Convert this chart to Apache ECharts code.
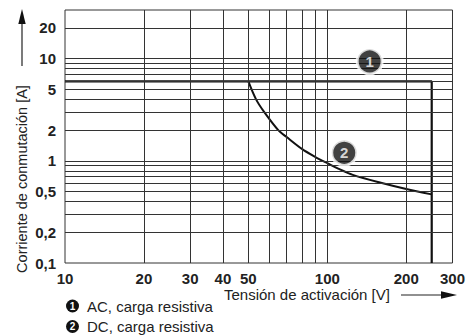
<!DOCTYPE html>
<html><head><meta charset="utf-8">
<script src="https://cdn.jsdelivr.net/npm/echarts@6/dist/echarts.min.js"></script>
<style>html,body{margin:0;padding:0;background:#fff}#c{width:468px;height:336px}</style>
</head><body><div id="c"></div>
<script>
// ---- data ----
const xTickLabels = [10, 20, 30, 40, 50, 100, 200, 300];
const yTickLabels = [0.1, 0.2, 0.5, 1, 2, 5, 10, 20];
const xGridValues = [20, 30, 40, 50, 60, 70, 80, 90, 100, 200];
const yGridValues = [0.2, 0.3, 0.4, 0.5, 0.6, 0.7, 0.8, 0.9, 1, 2, 3, 4, 5, 6, 7, 8, 9, 10, 20];
const acVoltage = [10, 250, 250];
const acCurrent = [6, 6, 0.1];
const dcVoltage = [50, 53.5, 57.5, 65, 70, 80, 90, 96, 100, 110, 125, 160, 200, 250];
const dcCurrent = [6, 4, 3, 2, 1.71, 1.31, 1.09, 1.0, 0.95, 0.84, 0.73, 0.61, 0.53, 0.47];
const seriesNames = ['AC, carga resistiva', 'DC, carga resistiva'];
const markerVoltage = [145, 116];
const markerCurrent = [9.4, 1.2];
const markerLabels = ['1', '2'];
const xAxisTitle = 'Tensión de activación [V]';
const yAxisTitle = 'Corriente de conmutación [A]';

const FONT = '"Liberation Sans", Arial, Helvetica, sans-serif';
const fmt = v => String(+(+v).toPrecision(3)).replace('.', ',');
const zip = (a, b) => a.map((v, i) => [v, b[i]]);

const legendText = {
  fontFamily: FONT, fontSize: 15, color: '#222', lineHeight: 15,
  rich: {
    n: { width: 13, height: 13, lineHeight: 13, borderRadius: 7, backgroundColor: '#111', color: '#fff', align: 'center', fontSize: 10, fontWeight: 'bold', fontFamily: FONT },
    g: { width: 8 }
  }
};
const makeLegend = (i, top) => ({
  data: [seriesNames[i]], orient: 'vertical', left: 61, top: top,
  icon: 'none', itemWidth: 0, itemHeight: 0, selectedMode: false, padding: 0,
  formatter: name => '{n|' + (seriesNames.indexOf(name) + 1) + '}{g|}' + name,
  textStyle: legendText
});

const chart = echarts.init(document.getElementById('c'), null, { renderer: 'svg' });
chart.setOption({
  animation: false,
  textStyle: { fontFamily: FONT },
  grid: { left: 65, right: 14, top: 10, bottom: 73, show: true, borderColor: '#333', borderWidth: 1, backgroundColor: 'transparent' },
  xAxis: {
    type: 'log', logBase: 10, min: 10, max: 300,
    axisLine: { show: false }, axisTick: { show: false }, splitLine: { show: false },
    axisLabel: { customValues: xTickLabels, formatter: fmt, fontFamily: FONT, fontWeight: 'bold', fontSize: 15, color: '#222', margin: 8 }
  },
  yAxis: {
    type: 'log', logBase: 10, min: 0.1, max: 30,
    axisLine: { show: false }, axisTick: { show: false }, splitLine: { show: false },
    axisLabel: { customValues: yTickLabels, formatter: fmt, fontFamily: FONT, fontWeight: 'bold', fontSize: 15, color: '#222', margin: 9 }
  },
  legend: [makeLegend(0, 298.5), makeLegend(1, 319)],
  graphic: [
    { type: 'text', x: 22, y: 179, rotation: Math.PI / 2, style: { text: yAxisTitle, font: '14.5px ' + FONT, fill: '#222', align: 'center', verticalAlign: 'middle' } },
    { type: 'line', shape: { x1: 22, y1: 66, x2: 22, y2: 22 }, style: { stroke: '#222', lineWidth: 1.2 } },
    { type: 'polygon', shape: { points: [[22, 9], [18.3, 24], [25.7, 24]] }, style: { fill: '#111' } },
    { type: 'text', x: 224, y: 294, style: { text: xAxisTitle, font: '15px ' + FONT, fill: '#222', align: 'left', verticalAlign: 'middle' } },
    { type: 'line', shape: { x1: 401, y1: 295, x2: 443, y2: 295 }, style: { stroke: '#222', lineWidth: 1.2 } },
    { type: 'polygon', shape: { points: [[457, 295], [441, 291.3], [441, 298.7]] }, style: { fill: '#111' } }
  ],
  series: [
    {
      name: 'grid', type: 'line', data: [], silent: true, z: 1,
      markLine: {
        silent: true, symbol: ['none', 'none'], animation: false,
        label: { show: false },
        lineStyle: { color: '#333', width: 1, type: 'solid' },
        emphasis: { disabled: true },
        data: xGridValues.map(v => ({ xAxis: v })).concat(yGridValues.map(v => ({ yAxis: v })))
      }
    },
    {
      name: seriesNames[0], type: 'line', data: zip(acVoltage, acCurrent), z: 3,
      symbol: 'none', lineStyle: { color: '#111', width: 2.2 }, itemStyle: { color: '#111' }
    },
    {
      name: seriesNames[1], type: 'line', data: zip(dcVoltage, dcCurrent), z: 3, smooth: 0.3,
      symbol: 'none', lineStyle: { color: '#111', width: 2 }, itemStyle: { color: '#111' }
    },
    {
      name: 'marcadores', type: 'scatter', z: 5, silent: true,
      data: zip(markerVoltage, markerCurrent).map((p, i) => ({ value: p, name: markerLabels[i] })),
      symbol: 'circle', symbolSize: 25,
      itemStyle: { color: '#111', borderColor: '#fff', borderWidth: 3 },
      label: { show: true, position: 'inside', formatter: p => p.name, color: '#fff', fontWeight: 'bold', fontSize: 15, fontFamily: FONT }
    }
  ]
});
</script>
</body></html>
